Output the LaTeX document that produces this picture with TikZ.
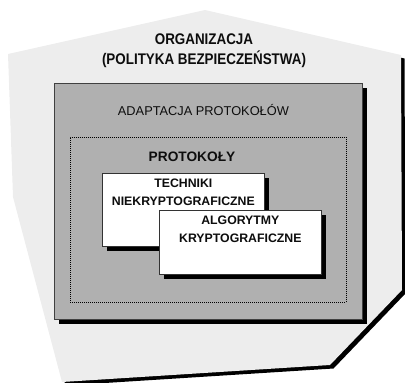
\documentclass[tikz,border=0pt]{standalone}
\usepackage{fontspec}
\setmainfont{Liberation Sans}
\newfontfamily\narrowfont[FakeStretch=0.87]{Liberation Sans}
\usepackage{tikz}
\usetikzlibrary{
    positioning
}
\definecolor{orgfill}{gray}{0.93}
\definecolor{adaptfill}{gray}{0.69}
\definecolor{inkgray}{gray}{0.05}
\tikzstyle{organisation} = [
    fill=orgfill,
    preaction={fill=black, transform canvas={shift={(3.5pt,-3.5pt)}}}
]
\tikzstyle{layer} = [
    rectangle,
    draw=black!75,
    line width=0.8pt,
    fill=adaptfill,
    anchor=north west,
    inner sep=0pt,
    preaction={fill=black, transform canvas={shift={(4.5pt,-4.5pt)}}}
]
\tikzstyle{sublayer} = [
    rectangle,
    draw=black,
    line width=0.6pt,
    dash pattern=on 1pt off 1pt,
    anchor=north west,
    inner sep=0pt
]
\tikzstyle{card} = [
    rectangle,
    draw=black!80,
    line width=0.7pt,
    fill=white,
    anchor=north west,
    inner sep=0pt,
    preaction={fill=black, transform canvas={shift={(5pt,-5pt)}}}
]
\tikzstyle{cardtext} = [
    inner sep=0pt,
    align=center,
    text=inkgray,
    font=\fontsize{12.3}{18}\selectfont\bfseries
]

\begin{document}
\begin{tikzpicture}[x=1pt, y=-1pt]
    \useasboundingbox (0,0) rectangle (405,383);

    % Organisation
    \fill[organisation] (8,54) -- (205,10) -- (401,55) -- (402,290)
        -- (330,365) -- (62,382) -- (13,197) -- cycle;
    \node[align=center, text=inkgray, inner sep=0pt,
          font=\narrowfont\fontsize{15.4}{20}\selectfont\bfseries]
        (org) at (204,51) {ORGANIZACJA\\(POLITYKA BEZPIECZEŃSTWA)};

    % Layers
    \node[layer, minimum width=308, minimum height=236] (adapt) at (54,83) {};
    \node[text=inkgray, inner sep=0pt, font=\fontsize{12.8}{15}\selectfont,
          below=21.5pt of adapt.north, xshift=-5pt] (adapttext) {ADAPTACJA PROTOKOŁÓW};
    \node[sublayer, minimum width=276, minimum height=165] (proto) at (70,137) {};
    \node[text=inkgray, inner sep=0pt, font=\fontsize{13.7}{16}\selectfont\bfseries]
        (prototext) at (192,157) {PROTOKOŁY};

    % Techniques
    \node[card, minimum width=162, minimum height=73] (tech) at (102,173) {};
    \node[cardtext, below=5.5pt of tech.north] (techtext)
        {TECHNIKI\\NIEKRYPTOGRAFICZNE};
    \node[card, minimum width=162, minimum height=64] (algo) at (159,210) {};
    \node[cardtext, below=5.5pt of algo.north] (algotext)
        {ALGORYTMY\\KRYPTOGRAFICZNE};
\end{tikzpicture}
\end{document}
